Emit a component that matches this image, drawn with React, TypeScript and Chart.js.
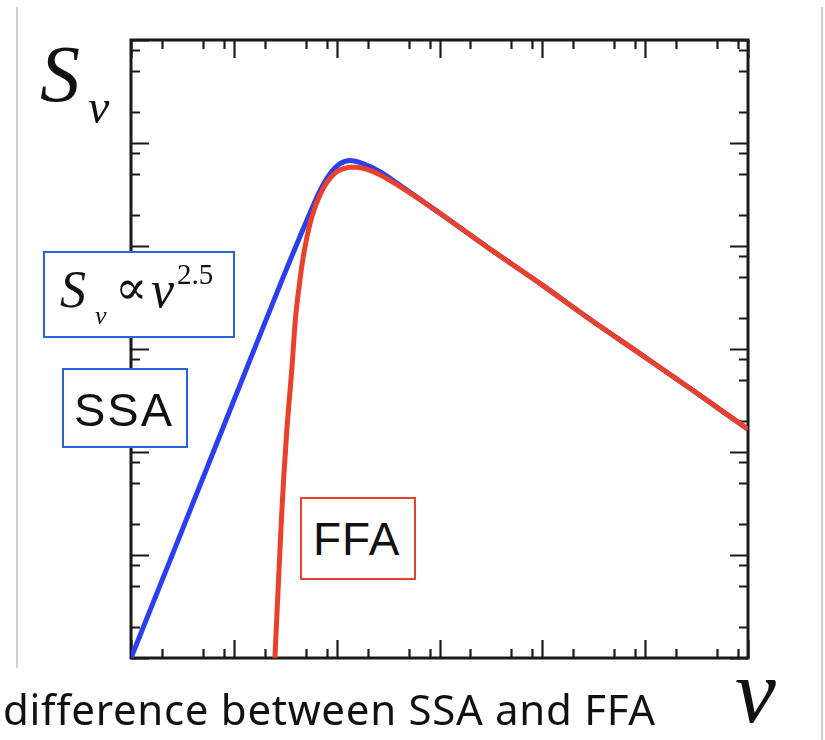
import React, { useEffect, useRef } from "react";
import { Chart, registerables } from "chart.js";

Chart.register(...registerables);

// Frequency (arbitrary units) and flux density
const ssaFreq = [1, 3, 10, 30, 55, 69, 86, 108, 135, 180, 266, 400, 1000, 3000, 10000, 30000, 100000, 300000, 1000000];
const ssaFlux = [1, 15.5, 316, 4900, 20900, 34700, 50100, 63100, 67600, 63100, 52500, 39800, 20900, 9550, 4170, 1900, 832, 389, 166];

const ffaFreq = [24, 25.1, 29.2, 32.7, 36.6, 39.8, 44.1, 47.4, 55.1, 64, 74.1, 85.9, 100, 116, 135, 157, 200, 266, 400, 1000, 3000, 10000, 30000, 100000, 300000, 1000000];
const ffaFlux = [0.4, 1, 25.1, 158, 631, 1995, 4790, 7940, 16600, 26300, 36300, 45200, 52500, 56200, 58200, 58200, 55000, 49000, 38500, 20900, 9550, 4170, 1900, 832, 389, 166];

const axisMin = 1;
const axisMax = 1000000;
const majorTicks = [1, 10, 100, 1000, 10000, 100000, 1000000];
const minorTicks = [
  2, 5, 8, 20, 50, 80, 200, 500, 800, 2000, 5000, 8000,
  20000, 50000, 80000, 200000, 500000, 800000,
];

const SERIF = '"Liberation Serif", "DejaVu Serif", serif';
const SANS = '"Liberation Sans", Arial, sans-serif';

const framePlugin = {
  id: "frame",
  beforeDatasetsDraw(chart: any) {
    const { ctx, chartArea } = chart;
    const { left, top, right, bottom } = chartArea;
    const xs = chart.scales.x;
    const ys = chart.scales.y;
    ctx.save();
    ctx.strokeStyle = "#1a1a1a";
    ctx.lineWidth = 2.2;
    const drawTicks = (vals: number[], len: number) => {
      ctx.beginPath();
      vals.forEach((v) => {
        const px = Math.round(xs.getPixelForValue(v)) + 0.5;
        ctx.moveTo(px, bottom);
        ctx.lineTo(px, bottom - len);
        ctx.moveTo(px, top);
        ctx.lineTo(px, top + len);
        const py = Math.round(ys.getPixelForValue(v)) + 0.5;
        ctx.moveTo(left, py);
        ctx.lineTo(left + len, py);
        ctx.moveTo(right, py);
        ctx.lineTo(right - len, py);
      });
      ctx.stroke();
    };
    drawTicks(minorTicks, 9);
    drawTicks(majorTicks, 18);
    ctx.lineWidth = 3;
    ctx.strokeRect(left, top, right - left, bottom - top);
    ctx.restore();
  },
};

function Txt(props: {
  x: number;
  base: number;
  size: number;
  family: string;
  italic?: boolean;
  ratio: number;
  spacing?: number;
  children: React.ReactNode;
}) {
  const { x, base, size, family, italic, ratio, spacing, children } = props;
  return (
    <div
      style={{
        position: "absolute",
        left: x,
        top: base - ratio * size,
        fontSize: size,
        lineHeight: `${size}px`,
        fontFamily: family,
        fontStyle: italic ? "italic" : "normal",
        letterSpacing: spacing ? `${spacing}px` : undefined,
        color: "#111",
        whiteSpace: "nowrap",
      }}
    >
      {children}
    </div>
  );
}

const SR = 0.8375; // Liberation Serif baseline ratio for line-height 1
const AR = 0.8465; // Liberation Sans
const NR = 0.888; // Noto Sans

export default function App() {
  const canvasRef = useRef<HTMLCanvasElement | null>(null);

  useEffect(() => {
    if (!canvasRef.current) return;
    const chart = new Chart(canvasRef.current, {
      type: "line",
      data: {
        datasets: [
          {
            label: "SSA",
            data: ssaFreq.map((f, i) => ({ x: f, y: ssaFlux[i] })),
            borderColor: "#2b3ff2",
            borderWidth: 5,
            pointRadius: 0,
            cubicInterpolationMode: "monotone",
            fill: false,
            order: 2,
          },
          {
            label: "FFA",
            data: ffaFreq.map((f, i) => ({ x: f, y: ffaFlux[i] })),
            borderColor: "#eb4029",
            borderWidth: 5,
            pointRadius: 0,
            cubicInterpolationMode: "monotone",
            fill: false,
            order: 1,
          },
        ],
      },
      options: {
        animation: false,
        responsive: false,
        maintainAspectRatio: false,
        layout: { padding: { left: 131, top: 40, right: 77, bottom: 82 } },
        scales: {
          x: { type: "logarithmic", min: axisMin, max: axisMax, display: false },
          y: { type: "logarithmic", min: axisMin, max: axisMax, display: false },
        },
        plugins: {
          legend: { display: false },
          tooltip: { enabled: false },
        },
      },
      plugins: [framePlugin],
    });
    return () => chart.destroy();
  }, []);

  return (
    <div
      style={{
        position: "absolute",
        left: 0,
        top: 0,
        width: 825,
        height: 740,
        background: "#fff",
        overflow: "hidden",
      }}
    >
      <canvas ref={canvasRef} width={825} height={740} style={{ position: "absolute", left: 0, top: 0 }} />

      {/* slide edge lines */}
      <div style={{ position: "absolute", left: 16, top: 7, width: 2, height: 661, background: "#cfcfcf" }} />
      <div style={{ position: "absolute", left: 821, top: 7, width: 2, height: 733, background: "#cfcfcf" }} />

      {/* y-axis label S_nu */}
      <Txt x={40} base={101} size={80} family={SERIF} italic ratio={SR}>S</Txt>
      <Txt x={88} base={123} size={48} family={SERIF} italic ratio={SR}>ν</Txt>

      {/* power law box */}
      <div
        style={{
          position: "absolute",
          left: 43,
          top: 251,
          width: 188,
          height: 83,
          border: "2px solid #2d63d8",
          background: "#fff",
        }}
      />
      <Txt x={60} base={308} size={52} family={SERIF} italic ratio={SR}>S</Txt>
      <Txt x={95} base={325} size={26} family={SERIF} italic ratio={SR}>ν</Txt>
      <Txt x={115} base={304} size={48} family={SERIF} ratio={SR}>∝</Txt>
      <Txt x={151} base={308} size={52} family={SERIF} italic ratio={SR}>ν</Txt>
      <Txt x={177} base={284} size={29} family={SERIF} ratio={SR}>2.5</Txt>

      {/* SSA box */}
      <div
        style={{
          position: "absolute",
          left: 62,
          top: 368,
          width: 122,
          height: 76,
          border: "2px solid #2d63d8",
          background: "#fff",
        }}
      />
      <Txt x={74} base={426} size={47} family={SANS} ratio={AR} spacing={2}>SSA</Txt>

      {/* FFA box */}
      <div
        style={{
          position: "absolute",
          left: 300,
          top: 497,
          width: 112,
          height: 79,
          border: "2px solid #e5432e",
          background: "#fff",
        }}
      />
      <Txt x={313} base={555} size={46} family={SANS} ratio={AR} spacing={1}>FFA</Txt>

      {/* caption */}
      <Txt x={3} base={725} size={42} family={'"Noto Sans", sans-serif'} ratio={NR} spacing={0.7}>
        difference between SSA and FFA
      </Txt>

      {/* x-axis label nu */}
      <Txt x={735} base={722} size={92} family={SERIF} italic ratio={SR}>ν</Txt>
    </div>
  );
}
